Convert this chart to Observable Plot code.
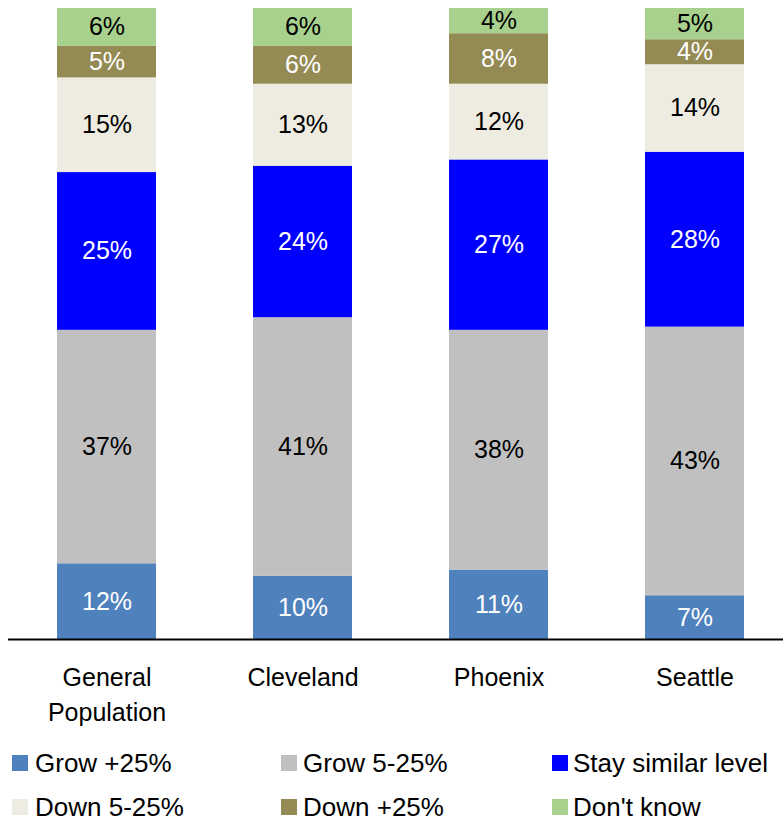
<!DOCTYPE html>
<html>
<head>
<meta charset="utf-8">
<script src="https://cdn.jsdelivr.net/npm/d3@7"></script>
<script src="https://cdn.jsdelivr.net/npm/@observablehq/plot@0.6"></script>
<style>
  html, body { margin: 0; padding: 0; background: #fff; }
  body { width: 783px; height: 824px; position: relative; overflow: hidden; font-family: "Liberation Sans", Arial, sans-serif; }
  #chart { position: absolute; left: 0; top: 0; }
  .lg { position: absolute; font-size: 26px; color: #000; line-height: 1; white-space: nowrap; }
  .sw { position: absolute; width: 16px; height: 16px; }
</style>
</head>
<body>
<div id="chart"></div>
<div id="legend"></div>
<script>
const categories = ["General Population", "Cleveland", "Phoenix", "Seattle"];
const series = ["Grow +25%", "Grow 5-25%", "Stay similar level", "Down 5-25%", "Down +25%", "Don't know"];
const colors = ["#4F81BD", "#C0C0C0", "#0000FF", "#EEECE1", "#948A54", "#A9D18E"];
const labelColors = ["#fff", "#000", "#fff", "#000", "#fff", "#000"];
const growPlus25 = [12, 10, 11, 7];
const grow5to25 = [37, 41, 38, 43];
const staySimilar = [25, 24, 27, 28];
const down5to25 = [15, 13, 12, 14];
const downPlus25 = [5, 6, 8, 4];
const dontKnow = [6, 6, 4, 5];

const seriesValues = [growPlus25, grow5to25, staySimilar, down5to25, downPlus25, dontKnow];
const data = [];
categories.forEach((c, i) => {
  series.forEach((s, j) => {
    data.push({category: c, series: s, value: seriesValues[j][i]});
  });
});

const plot = Plot.plot({
  width: 783,
  height: 740,
  marginTop: 8,
  marginBottom: 101,
  marginLeft: 8,
  marginRight: 0,
  style: {fontFamily: "'Liberation Sans', Arial, sans-serif", background: "#fff"},
  x: {domain: categories, range: [-42, 843], padding: 0.497, label: null},
  y: {domain: [0, 1], axis: null},
  color: {domain: series, range: colors},
  marks: [
    Plot.barY(data, Plot.stackY({x: "category", y: "value", z: "series", fill: "series", order: series, offset: "normalize"})),
    Plot.text(data, Plot.stackY({
      x: "category", y: "value", z: "series", order: series, offset: "normalize",
      text: d => d.value + "%",
      fill: d => labelColors[series.indexOf(d.series)],
      fontSize: 25
    })),
    Plot.ruleY([0], {stroke: "#000", strokeWidth: 2}),
    Plot.axisX({
      tickSize: 0, tickPadding: 22, fontSize: 25, lineHeight: 1.4,
      tickFormat: d => d.replace(" ", "\n"), label: null, fill: "#000"
    })
  ]
});
document.getElementById("chart").appendChild(plot);

const legend = document.getElementById("legend");
const colX = [{sw: 12, tx: 35}, {sw: 281, tx: 303}, {sw: 552, tx: 573}];
const rowY = [763, 807];
series.forEach((s, k) => {
  const col = k % 3, row = Math.floor(k / 3);
  const sw = document.createElement("div");
  sw.className = "sw";
  sw.style.left = colX[col].sw + "px";
  sw.style.top = (rowY[row] - 8) + "px";
  sw.style.background = colors[k];
  legend.appendChild(sw);
  const t = document.createElement("div");
  t.className = "lg";
  t.textContent = s;
  t.style.left = colX[col].tx + "px";
  t.style.top = (rowY[row] - 13) + "px";
  legend.appendChild(t);
});
</script>
</body>
</html>
